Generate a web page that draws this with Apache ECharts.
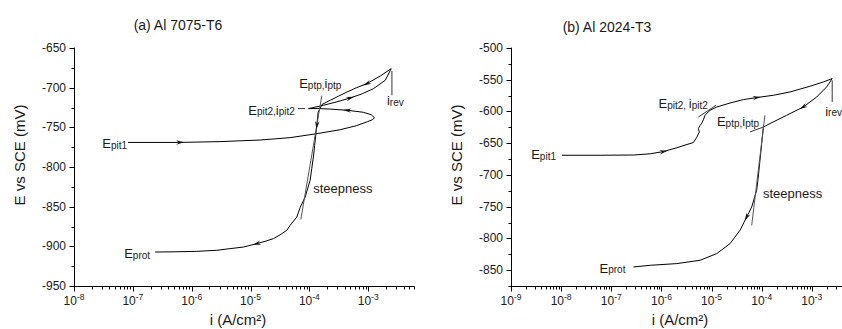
<!DOCTYPE html>
<html><head><meta charset="utf-8">
<script src="https://cdn.jsdelivr.net/npm/echarts@6/dist/echarts.min.js"></script>
<style>html,body{margin:0;padding:0;background:#fff}#c{width:842px;height:329px}</style>
</head><body><div id="c"></div>
<script>
// ---------------- data ----------------
const leftTitle = '(a) Al 7075-T6';
const rightTitle = '(b) Al 2024-T3';
const yName = 'E vs SCE (mV)';
const xName = 'i (A/cm²)';

// (a) forward scan: current (A/cm2), potential (mV)
const leftFwdI = [8.28e-8,6.35e-7,3.04e-6,1.46e-5,4.71e-5,1.34e-4,3.34e-4,6.25e-4,9.62e-4,1.17e-3,1.28e-3,1.12e-3,8.22e-4,4.40e-4,2.26e-4,1.41e-4,9.66e-5,1.74e-4,2.94e-4,4.94e-4,7.91e-4,1.23e-3,1.95e-3,2.46e-3];
const leftFwdE = [-769,-769,-768,-766,-763,-758,-753,-748,-743,-740.5,-738,-734,-731,-728.5,-727,-726.3,-726.4,-722.2,-717.8,-713,-707.7,-701.2,-690.7,-676];
// (a) reverse scan
const leftRevI = [2.46e-3,1.60e-3,9.51e-4,6.25e-4,4.35e-4,3.09e-4,2.26e-4,1.63e-4,1.41e-4,1.34e-4,1.31e-4,1.23e-4,1.17e-4,1.10e-4,1.03e-4,8.49e-5,6.98e-5,6.12e-5,4.71e-5,4.14e-5,3.18e-5,2.45e-5,1.77e-5,1.28e-5,7.57e-6,4.50e-6,2.67e-6,1.22e-6,5.22e-7,2.39e-7];
const leftRevE = [-676,-685.3,-694.9,-700.2,-705.5,-710.9,-715.9,-721.3,-731,-747.4,-753.7,-772.7,-787.4,-801.6,-816.8,-837.8,-850.8,-863,-873.5,-879.8,-885.5,-890.3,-893.7,-896.6,-900.9,-902.9,-905,-906.3,-906.9,-907.2];
// (a) guide lines
const leftSteepI = [7.16e-5,1.63e-4];   const leftSteepE = [-866,-710];
const leftRevLeadI = [2.53e-3,2.53e-3]; const leftRevLeadE = [-679,-709.6];
const leftPit2LeadI = [6.37e-5,8.47e-5]; const leftPit2LeadE = [-726.4,-726.4];

// (b) forward scan
const rightFwdI = [1.04e-8,6.01e-8,2.77e-7,5.96e-7,1.10e-6,2.03e-6,3.10e-6,4.34e-6,5.07e-6,5.71e-6,5.46e-6,5.90e-6,6.38e-6,6.87e-6,7.43e-6,8.63e-6,9.33e-6,1.27e-5,2.34e-5,4.30e-5,7.94e-5,1.70e-4,3.66e-4,9.16e-4,1.69e-3,2.55e-3];
const rightFwdE = [-669,-669,-668.6,-666.7,-663.2,-657.2,-652.5,-649,-640.7,-632.3,-627,-621.8,-618.6,-613.1,-606,-600.5,-598.2,-593,-586.7,-581.3,-578.1,-574.5,-569.3,-560.3,-553.6,-548.2];
// (b) reverse scan
const rightRevI = [2.55e-3,1.97e-3,1.25e-3,6.75e-4,3.15e-4,1.46e-4,1.08e-4,1.00e-4,9.25e-5,8.55e-5,7.94e-5,6.32e-5,5.02e-5,3.70e-5,2.34e-5,1.27e-5,5.90e-6,2.03e-6,5.96e-7,2.77e-7];
const rightRevE = [-548.2,-561.4,-577.2,-593,-606,-619.1,-624.5,-650.6,-676.9,-703.2,-724.2,-750.5,-766.3,-787.2,-808.2,-823.9,-834.5,-839.7,-842.4,-845];
// (b) guide lines
const rightSteepI = [6.32e-5,1.16e-4];   const rightSteepE = [-779.4,-606];
const rightPtpTanI = [5.85e-5,1.08e-4];  const rightPtpTanE = [-632.3,-624.5];
const rightPit2TanI = [5.46e-6,1.23e-5]; const rightPit2TanE = [-608.7,-590.3];
const rightRevLeadI = [2.55e-3,2.55e-3]; const rightRevLeadE = [-551,-585];

// axis ranges
const leftXRange = [1e-8, 6e-3];  const leftYRange = [-950, -650];
const rightXRange = [1e-9, 4e-3]; const rightYRange = [-875, -500];

// arrows: [curve, index of point]
const leftArrows = [['lf',1],['lf',13],['lf',19],['lr',2],['lr',9],['lr',23]];
const rightArrows = [['rf',4],['rf',20],['rr',3],['rr',12]];

// ---------------- rendering ----------------
const FF = '"Liberation Sans", Arial, Helvetica, sans-serif';
const TXT = '#1a1a1a';
const curves = {lf:[leftFwdI,leftFwdE], lr:[leftRevI,leftRevE], rf:[rightFwdI,rightFwdE], rr:[rightRevI,rightRevE]};
const zip = (a,b) => a.map((v,k)=>[v,b[k]]);

const noteRich = {
  E:{fontSize:13, fontFamily:FF, fill:TXT, lineHeight:16, verticalAlign:'bottom'},
  i:{fontSize:13, fontFamily:FF, fill:TXT, lineHeight:16, verticalAlign:'bottom'},
  s:{fontSize:10, fontFamily:FF, fill:TXT, lineHeight:15, verticalAlign:'bottom'},
  t:{fontSize:13, fontFamily:FF, fill:TXT, lineHeight:16, verticalAlign:'bottom'}
};
// notes: anchor (data), text, align, dx, dy
const leftNotes = [
  {at:[leftFwdI[0],leftFwdE[0]], text:'{E|E}{s|pit1}', align:'right', dx:-1, dy:0},
  {at:[leftPit2LeadI[0],leftPit2LeadE[0]], text:'{E|E}{s|pit2,}{i|i}{s|pit2}', align:'right', dx:-3, dy:0},
  {at:[1.53e-4,-693.2], text:'{E|E}{s|ptp,}{i|i}{s|ptp}', align:'center', dx:0, dy:0},
  {at:[leftRevLeadI[1],leftRevLeadE[1]], text:'{i|i}{s|rev}', align:'left', dx:-5, dy:4},
  {at:[1.16e-4,-825.6], text:'{t|steepness}', align:'left', dx:0, dy:0},
  {at:[leftRevI[leftRevI.length-1],leftRevE[leftRevE.length-1]], text:'{E|E}{s|prot}', align:'right', dx:-5, dy:0}
];
const rightNotes = [
  {at:[rightFwdI[0],rightFwdE[0]], text:'{E|E}{s|pit1}', align:'right', dx:-6, dy:-2},
  {at:[2.72e-6,-585.6], text:'{E|E}{s|pit2, }{i|i}{s|pit2}', align:'center', dx:0, dy:0},
  {at:[3.37e-5,-613.9], text:'{E|E}{s|ptp,}{i|i}{s|ptp}', align:'center', dx:0, dy:0},
  {at:[rightRevLeadI[1],rightRevLeadE[1]], text:'{i|i}{s|rev}', align:'left', dx:-7, dy:8},
  {at:[1.06e-4,-726.9], text:'{t|steepness}', align:'left', dx:0, dy:0},
  {at:[rightRevI[rightRevI.length-1],rightRevE[rightRevE.length-1]], text:'{E|E}{s|prot}', align:'right', dx:-8, dy:0}
];

function tickData(xr, yr){
  const out = [];
  const k0 = Math.round(Math.log10(xr[0]));
  for (let k=k0; Math.pow(10,k) <= xr[1]; k++){
    for (let m=1; m<=9; m++){
      const v = m*Math.pow(10,k);
      if (v > xr[1]*1.0001) break;
      out.push([v, yr[0], 0, m===1?5:3]);
    }
  }
  for (let v=yr[0]; v<=yr[1]+1e-9; v+=25){
    out.push([xr[0], v, (v%50===0)?-5:-3, 0]);
  }
  return out;
}
function tickItem(params, api){
  const p = api.coord([api.value(0), api.value(1)]);
  const x = Math.round(p[0])+0.5, y = Math.round(p[1])+0.5;
  return {type:'line', shape:{x1:x, y1:y, x2:x+api.value(2), y2:y+api.value(3)}, style:{stroke:'#000', lineWidth:1}};
}
function arrowData(list){
  return list.map(([c,k])=>{const [I,E]=curves[c]; return [I[k],E[k],I[k-1],E[k-1],I[k+1],E[k+1]];});
}
function arrowItem(params, api){
  const p = api.coord([api.value(0), api.value(1)]);
  const a = api.coord([api.value(2), api.value(3)]);
  const b = api.coord([api.value(4), api.value(5)]);
  let ux=b[0]-a[0], uy=b[1]-a[1]; const L=Math.hypot(ux,uy)||1; ux/=L; uy/=L;
  const nx=-uy, ny=ux, h=4, w=2.2;
  return {type:'polygon', shape:{points:[
    [p[0]+ux*h, p[1]+uy*h],
    [p[0]-ux*h+nx*w, p[1]-uy*h+ny*w],
    [p[0]-ux*h*0.3, p[1]-uy*h*0.3],
    [p[0]-ux*h-nx*w, p[1]-uy*h-ny*w]]}, style:{fill:'#111'}};
}
function noteItemFactory(notes){
  return function(params, api){
    const n = notes[params.dataIndex];
    const p = api.coord([api.value(0), api.value(1)]);
    return {type:'text', x:p[0]+n.dx, y:p[1]+n.dy,
      style:{text:n.text, rich:noteRich, align:n.align, verticalAlign:'middle', fontFamily:FF, fontSize:13, fill:TXT}};
  };
}
function xAxisCfg(gi, r){
  return {type:'log', logBase:10, gridIndex:gi, min:r[0], max:r[1],
    axisLine:{show:true, lineStyle:{color:'#000', width:1}}, axisTick:{show:false}, splitLine:{show:false}, minorTick:{show:false},
    axisLabel:{margin:6, showMaxLabel:false, hideOverlap:false,
      formatter:v=>'{b|10}{s|'+Math.round(Math.log10(v))+'}',
      rich:{b:{fontSize:12, fontFamily:FF, color:TXT, lineHeight:15, verticalAlign:'bottom'},
            s:{fontSize:8.5, fontFamily:FF, color:TXT, lineHeight:15, verticalAlign:'top'}}}};
}
function yAxisCfg(gi, r, step){
  return {type:'value', gridIndex:gi, min:r[0], max:r[1], interval:step,
    axisLine:{show:true, lineStyle:{color:'#000', width:1}}, axisTick:{show:false}, splitLine:{show:false},
    axisLabel:{margin:8, fontSize:12, fontFamily:FF, color:TXT, formatter:v=>(v%50===0?String(v):'')}};
}
function lineS(xi, I, E, color){
  return {type:'line', xAxisIndex:xi, yAxisIndex:xi, data:zip(I,E), showSymbol:false, symbol:'none',
    lineStyle:{color:color||'#000', width:1}, silent:true, z:3};
}
const series = [
  lineS(0,leftFwdI,leftFwdE), lineS(0,leftRevI,leftRevE),
  lineS(0,leftSteepI,leftSteepE,'#555'), lineS(0,leftRevLeadI,leftRevLeadE,'#333'), lineS(0,leftPit2LeadI,leftPit2LeadE,'#333'),
  lineS(1,rightFwdI,rightFwdE), lineS(1,rightRevI,rightRevE),
  lineS(1,rightSteepI,rightSteepE,'#555'), lineS(1,rightPtpTanI,rightPtpTanE,'#333'), lineS(1,rightPit2TanI,rightPit2TanE,'#333'), lineS(1,rightRevLeadI,rightRevLeadE,'#333'),
  {type:'custom', xAxisIndex:0, yAxisIndex:0, data:tickData(leftXRange,leftYRange), renderItem:tickItem, clip:false, silent:true},
  {type:'custom', xAxisIndex:1, yAxisIndex:1, data:tickData(rightXRange,rightYRange), renderItem:tickItem, clip:false, silent:true},
  {type:'custom', xAxisIndex:0, yAxisIndex:0, data:arrowData(leftArrows), renderItem:arrowItem, clip:false, silent:true, z:4},
  {type:'custom', xAxisIndex:1, yAxisIndex:1, data:arrowData(rightArrows), renderItem:arrowItem, clip:false, silent:true, z:4},
  {type:'custom', xAxisIndex:0, yAxisIndex:0, data:leftNotes.map(n=>n.at), renderItem:noteItemFactory(leftNotes), clip:false, silent:true, z:5},
  {type:'custom', xAxisIndex:1, yAxisIndex:1, data:rightNotes.map(n=>n.at), renderItem:noteItemFactory(rightNotes), clip:false, silent:true, z:5}
];
const txt = (x,y,t,size,rot)=>({type:'text', x:x, y:y, rotation:rot||0, silent:true,
  style:{text:t, fontSize:size, fontFamily:FF, fill:TXT, align:'center', verticalAlign:'middle'}});
const chart = echarts.init(document.getElementById('c'), null, {renderer:'svg', width:842, height:329});
chart.setOption({
  animation:false, backgroundColor:'#fff',
  grid:[{left:74, top:48, width:340, height:238}, {left:511, top:48, width:331, height:238}],
  xAxis:[xAxisCfg(0,leftXRange), xAxisCfg(1,rightXRange)],
  yAxis:[yAxisCfg(0,leftYRange,50), yAxisCfg(1,rightYRange,25)],
  graphic:[
    txt(178,25,leftTitle,14), txt(607,27,rightTitle,14),
    txt(19,155,yName,15,Math.PI/2), txt(456,155,yName,15,Math.PI/2),
    txt(238,319,xName,15), txt(680,319,xName,15)
  ],
  series:series
});
</script></body></html>
